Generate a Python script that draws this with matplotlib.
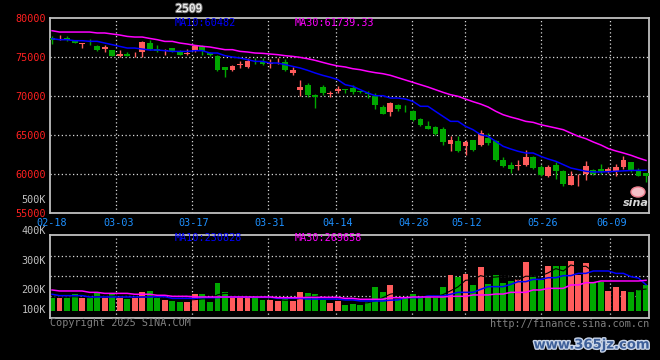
import numpy as np
import matplotlib
matplotlib.use("Agg")
import matplotlib.pyplot as plt
import matplotlib.patheffects as pe
from matplotlib.patches import Ellipse

# price candles, 80 trading days starting 02-18
opens = [77430, 77300, 77400, 77050, 76700, 76700, 76450, 76020, 75940, 75080,
         75430, 75200, 75640, 76790, 76070, 75730, 76150, 75640, 75400, 75810,
         76360, 75510, 75170, 73670, 73380, 74000, 73670, 74400, 74360, 74100,
         74300, 74360, 72950, 70730, 71450, 70170, 71200, 70200, 70600, 70860,
         71020, 70580, 70350, 69960, 68550, 67910, 68890, 68200, 68030, 67100,
         66200, 66030, 65770, 63890, 64190, 63640, 64320, 63760, 64620, 64190,
         61840, 61200, 61050, 61110, 62140, 60900, 59790, 61200, 60350, 58640,
         59700, 60050, 60560, 60640, 60220, 60430, 60900, 61500, 60470, 60130]
highs = [77730, 77860, 77750, 77200, 76800, 77350, 76600, 76580, 75950, 75900,
         75700, 75640, 77090, 77130, 76580, 76070, 76200, 75940, 76070, 76450,
         76580, 75640, 75300, 73670, 73930, 74530, 74870, 74870, 74870, 74740,
         74870, 74700, 73670, 72100, 71670, 70200, 71450, 70600, 71240, 70900,
         71450, 70600, 70600, 70400, 68890, 69230, 69000, 68890, 68250, 67180,
         66750, 66200, 65990, 64830, 64830, 64320, 64400, 65690, 65260, 64310,
         62140, 61500, 61840, 63030, 62350, 61200, 61200, 61500, 60560, 60430,
         60050, 61620, 60640, 61330, 60900, 61330, 62270, 61500, 60770, 60130]
lows = [76700, 77130, 77100, 76750, 76150, 76500, 75750, 75600, 75100, 75000,
        75150, 75000, 75000, 75940, 75640, 75300, 75700, 75250, 75300, 75700,
        75300, 75150, 73160, 72400, 73160, 73590, 73590, 74100, 74020, 73590,
        74100, 73200, 72740, 69960, 69830, 68470, 70170, 69830, 70390, 70390,
        70300, 70400, 69740, 68330, 67700, 67400, 68100, 67910, 66750, 66110,
        65800, 65040, 63770, 62910, 62780, 62480, 62910, 63640, 63760, 61620,
        60900, 60130, 60560, 61070, 60640, 59790, 59620, 59400, 58420, 58600,
        58510, 59280, 59920, 60050, 60130, 59700, 60640, 60300, 59700, 58940]
closes = [77130, 77350, 77130, 76800, 76800, 76650, 75950, 76240, 75170, 75430,
          75170, 75250, 76870, 76070, 75810, 75940, 75730, 75300, 75500, 76360,
          75810, 75210, 73290, 73290, 73800, 74100, 74440, 74300, 74100, 74230,
          74360, 73290, 73290, 71110, 70170, 69830, 70400, 70400, 70900, 70750,
          70470, 70550, 70280, 68890, 67740, 69100, 68330, 68150, 66880, 66240,
          65820, 65170, 64060, 64320, 62910, 64060, 63120, 65260, 63980, 61750,
          61070, 60640, 61100, 62140, 60770, 59920, 60900, 60350, 58770, 59790,
          59790, 61070, 60050, 60260, 60640, 60900, 61750, 60350, 59700, 59700]

ma10 = [77350, 77220, 77220, 77090, 77090, 77010, 77010, 76790, 76580, 76360,
        76150, 76150, 76020, 75900, 75900, 75810, 75720, 75720, 75720, 75810,
        75810, 75510, 75510, 75170, 75000, 74870, 74660, 74440, 74440, 74230,
        74230, 74020, 73800, 73590, 73290, 72950, 72650, 72400, 72100, 71450,
        71240, 70810, 70380, 70040, 70040, 69740, 69740, 69610, 69310, 68680,
        68680, 68030, 67390, 66750, 66750, 66110, 65680, 65040, 64830, 64190,
        63550, 63210, 62910, 62690, 62690, 62270, 61920, 61630, 61200, 60770,
        60560, 60350, 60260, 60260, 60300, 60350, 60400, 60450, 60470, 60482]
ma30 = [78370, 78200, 78200, 78200, 78200, 78200, 78080, 78080, 77950, 77820,
        77640, 77560, 77560, 77380, 77220, 77000, 77000, 76790, 76660, 76490,
        76370, 76280, 76110, 75940, 75940, 75720, 75640, 75510, 75470, 75380,
        75300, 75170, 75080, 74950, 74780, 74570, 74310, 74060, 73850, 73720,
        73500, 73370, 73160, 72990, 72860, 72650, 72350, 72050, 71750, 71450,
        71150, 70810, 70470, 70170, 69960, 69610, 69270, 68970, 68590, 68050,
        67600, 67300, 67050, 66750, 66620, 66320, 66110, 65900, 65680, 65250,
        64830, 64530, 64100, 63720, 63250, 62950, 62690, 62400, 62050, 61739]

# volume in thousands
volume = [111, 117, 117, 147, 111, 111, 164, 117, 147, 117,
          105, 117, 164, 176, 117, 97, 88, 76, 82, 147,
          147, 76, 246, 164, 111, 117, 117, 111, 97, 97,
          88, 117, 88, 164, 155, 147, 97, 70, 88, 53,
          62, 53, 82, 211, 167, 229, 103, 126, 152, 123,
          123, 111, 211, 316, 299, 325, 229, 387, 237, 316,
          243, 264, 281, 431, 299, 272, 396, 396, 396, 440,
          316, 422, 258, 258, 176, 211, 176, 167, 182, 229]
vol_ma5 = [125, 125, 125, 125, 121, 117, 126, 129, 131, 138,
           121, 119, 123, 124, 140, 138, 125, 112, 96, 100,
           106, 106, 142, 156, 150, 152, 142, 137, 115, 103,
           100, 94, 97, 111, 123, 126, 142, 116, 107, 86,
           69, 68, 72, 91, 117, 148, 158, 167, 161, 145,
           127, 127, 144, 177, 212, 270, 276, 311, 295, 299,
           305, 300, 272, 306, 304, 309, 336, 373, 352, 405,
           389, 394, 347, 339, 286, 225, 216, 198, 186, 193]
vol_ma10 = [147, 135, 135, 135, 135, 123, 123, 123, 123, 123,
            123, 123, 123, 123, 126, 126, 111, 111, 111, 111,
            117, 117, 117, 123, 123, 123, 120, 120, 120, 120,
            111, 111, 111, 111, 105, 105, 105, 105, 105, 97,
            97, 88, 88, 88, 88, 95, 97, 117, 117, 117,
            132, 132, 132, 147, 164, 164, 164, 190, 214, 214,
            214, 234, 258, 258, 278, 278, 293, 293, 311, 311,
            331, 331, 352, 352, 352, 331, 331, 302, 290, 231]
vol_ma30 = [185, 176, 176, 176, 176, 164, 164, 155, 155, 155,
            155, 147, 147, 147, 138, 138, 129, 129, 129, 123,
            123, 123, 123, 123, 123, 123, 123, 123, 123, 123,
            117, 117, 117, 117, 120, 120, 120, 120, 120, 111,
            111, 103, 103, 103, 103, 117, 117, 117, 123, 123,
            123, 123, 123, 129, 129, 129, 141, 141, 141, 149,
            149, 164, 164, 164, 185, 185, 199, 199, 199, 229,
            229, 249, 249, 264, 264, 264, 264, 264, 264, 270]

date_labels = ['02-18', '03-03', '03-17', '03-31', '04-14', '04-28', '05-12', '05-26', '06-09']
date_pos = [0, 8.8, 18.9, 29.0, 38.0, 48.1, 55.2, 65.3, 74.5]
price_ticks = [80000, 75000, 70000, 65000, 60000, 55000]
price_grid = [75000, 70000, 65000, 60000]
vol_label_text = ['400K', '300K', '200K', '100K']
vol_label_pos = [704, 440, 185, 9]
vol_grid = [487, 311, 135]

RED = '#ff5c5c'
GREEN = '#00a800'
GRID = '#d8d8d8'
BORDER = '#c0c0c0'
MONO = 'DejaVu Sans Mono'
FS = 7.3

plt.rcParams['font.family'] = MONO

fig = plt.figure(figsize=(6.6, 3.6), dpi=100, facecolor='black')
ax = fig.add_axes([50/660, 1-213/360, 599/660, 195/360], facecolor='black')
axv = fig.add_axes([50/660, 1-318/360, 599/660, 83/360], facecolor='black')

x = np.arange(len(closes))
o = np.array(opens); c = np.array(closes)
up = c >= o
cols = [RED if u else GREEN for u in up]

for a in (ax, axv):
    a.set_xlim(-0.27, 79.4)
    for s in a.spines.values():
        s.set_color(BORDER)
        s.set_linewidth(1.3)
    for p in date_pos[1:]:
        a.axvline(p - 0.25, color=GRID, lw=0.9, ls=(0, (1, 2)), zorder=0)

# price panel
for g in price_grid:
    ax.axhline(g, color=GRID, lw=0.9, ls=(0, (1, 2)), zorder=0)
ax.vlines(x, lows, highs, colors=cols, lw=1, zorder=2)
body = np.maximum(np.abs(c - o), 70)
ax.bar(x, body, bottom=np.minimum(o, c), width=0.78, color=cols, zorder=3)
ax.plot(x, ma10, color='#0000ff', lw=1.1, zorder=4)
ax.plot(x, ma30, color='#ff00ff', lw=1.1, zorder=4)
ax.set_ylim(55000, 80000)
ax.set_yticks(price_ticks)
ax.set_yticklabels([str(t) for t in price_ticks], color='#ff2020', fontsize=FS)
ax.set_xticks(date_pos)
ax.set_xticklabels(date_labels, color='#1e90ff', fontsize=FS)
ax.tick_params(length=0, pad=3)
ax.tick_params(axis='x', pad=3.5)
ax.text(-0.007, 56700, '500K', transform=ax.get_yaxis_transform(), ha='right',
        va='center', color=BORDER, fontsize=FS)
ax.text(175/660, 1-23/360, 'MA10:60482', transform=fig.transFigure, color='#0000ff',
        fontsize=FS, va='center')
ax.text(295/660, 1-23/360, 'MA30:61739.33', transform=fig.transFigure, color='#ff00ff',
        fontsize=FS, va='center')

# volume panel
for g in vol_grid:
    axv.axhline(g, color=GRID, lw=0.9, ls=(0, (1, 2)), zorder=0)
axv.bar(x, volume, width=0.78, color=cols, zorder=2)
axv.plot(x, vol_ma5, color='black', lw=0.8, zorder=3)
axv.plot(x, vol_ma10, color='#0000ff', lw=1.1, zorder=4)
axv.plot(x, vol_ma30, color='#ff00ff', lw=1.1, zorder=4)
axv.set_ylim(-62, 669)
axv.set_xticks([])
axv.set_yticks([])
for t, v in zip(vol_label_text, vol_label_pos):
    axv.text(-0.007, v, t, transform=axv.get_yaxis_transform(), ha='right',
             va='center', color=BORDER, fontsize=FS, clip_on=False)
fig.text(175/660, 1-238/360, 'MA10:230828', color='#0000ff', fontsize=FS, va='center')
fig.text(295/660, 1-238/360, 'MA30:269658', color='#ff00ff', fontsize=FS, va='center')

# header and footer texts
fig.text(189/660, 1-9/360, '2509', color='white', fontsize=8, ha='center', va='center',
         path_effects=[pe.withStroke(linewidth=1.5, foreground='#808080')])
fig.text(50/660, 1-323/360, 'Copyright 2025 SINA.COM', color='#808080', fontsize=FS,
         va='center')
fig.text(649/660, 1-324/360, 'http://finance.sina.com.cn', color='#808080', fontsize=FS,
         va='center', ha='right')
fig.text(592/660, 1-345/360, 'www.365jz.com', color='#3d5f99', fontsize=9.5,
         fontweight='bold', ha='center', va='center', family='DejaVu Sans',
         path_effects=[pe.withStroke(linewidth=2, foreground='#c8d4e8')])
# sina logo
fig.patches.append(Ellipse((638/660, 1-192/360), 14/660, 10/360, transform=fig.transFigure,
                           facecolor='#f4c0c8', edgecolor='#f08090', lw=1))
fig.text(636/660, 1-203/360, 'sina', color='#d8d8d8', fontsize=8, style='italic',
         fontweight='bold', ha='center', va='center', family='DejaVu Sans')

fig.savefig('out.png', dpi=100, facecolor='black')
